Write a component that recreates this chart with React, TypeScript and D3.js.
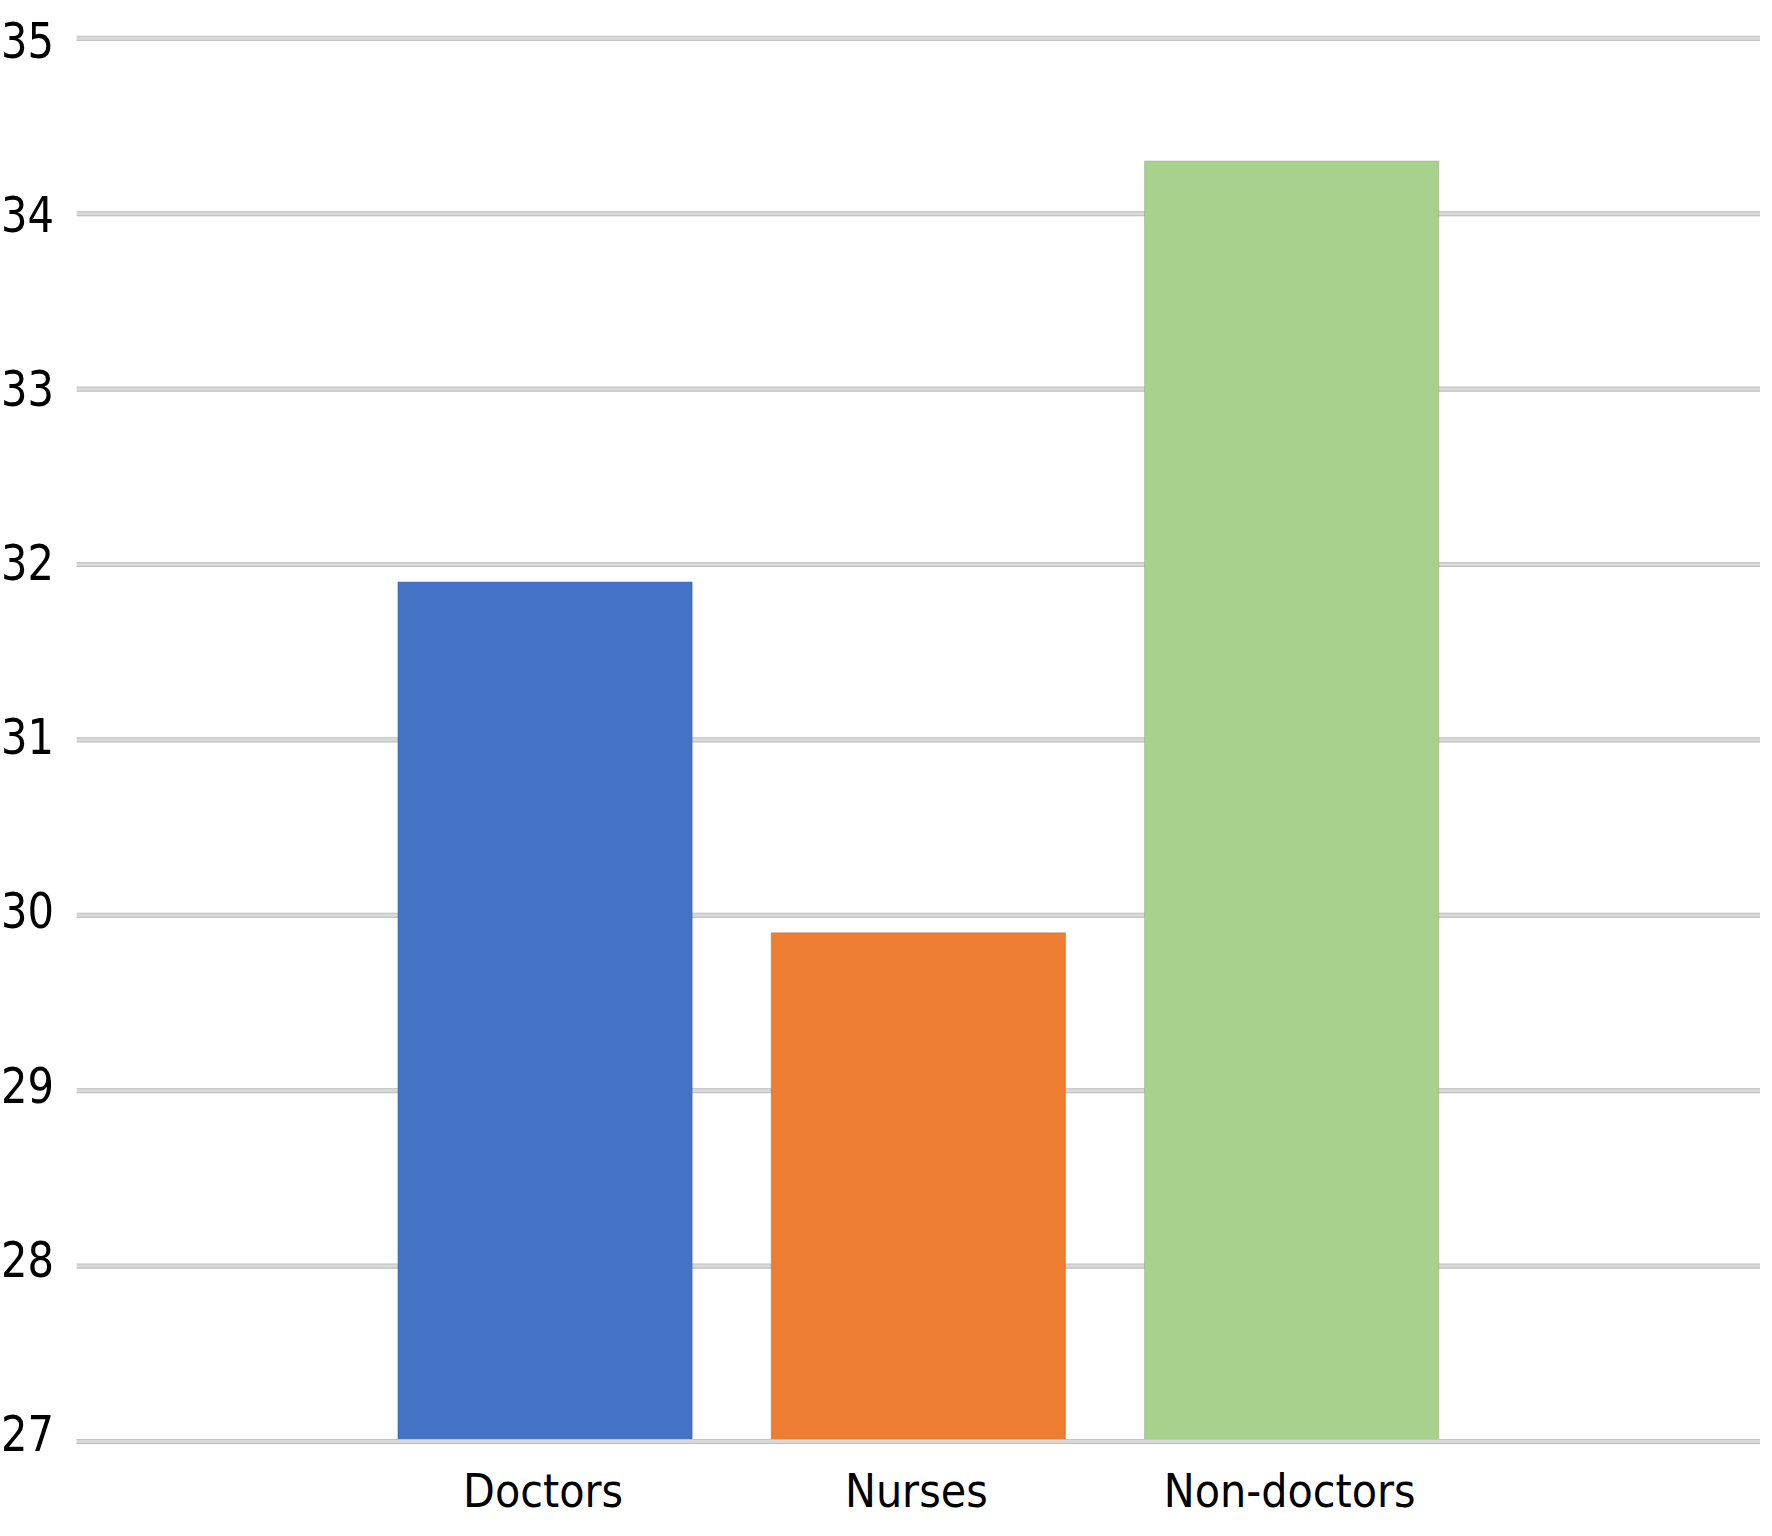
import React from "react";
import * as d3 from "d3";

const categories = ["Doctors", "Nurses", "Non-doctors"];
const values = [31.9, 29.9, 34.3];
const colors = ["#4472C4", "#ED7D31", "#A9D18E"];
const tickValues = [27, 28, 29, 30, 31, 32, 33, 34, 35];

const W = 1772;
const H = 1536;
const FONT = "'DejaVu Sans Condensed', 'DejaVu Sans', sans-serif";

export default function App() {
  const y = d3.scaleLinear().domain([27, 35]).range([1441.5, 38.3]);
  const yLabel = d3.scaleLinear().domain([27, 35]).range([1432.5, 39]);
  const gridX0 = 76.7;
  const gridX1 = 1760;
  const mid = (gridX0 + gridX1) / 2;
  const step = 373.3;
  const x = d3
    .scaleBand<string>()
    .domain(categories)
    .range([mid - 1.5 * step, mid + 1.5 * step])
    .paddingInner(0.212)
    .paddingOuter(0.106);

  const gridLine = (v: number, key: string) => (
    <g key={key}>
      <rect x={gridX0} y={y(v) - 2.5} width={gridX1 - gridX0} height={5} fill="#d9d9d9" />
      <line x1={gridX0} x2={gridX1} y1={y(v) - 2} y2={y(v) - 2} stroke="#c4c4c4" strokeWidth={1} />
      <line x1={gridX0} x2={gridX1} y1={y(v) + 2} y2={y(v) + 2} stroke="#bdbdbd" strokeWidth={1} />
    </g>
  );

  return (
    <svg
      width={W}
      height={H}
      viewBox={`0 0 ${W} ${H}`}
      style={{ position: "absolute", left: 0, top: 0, display: "block", background: "#fff" }}
    >
      <rect x={0} y={0} width={W} height={H} fill="#fff" />
      {tickValues.map((v) => gridLine(v, "g" + v))}
      {categories.map((c, i) => (
        <rect
          key={c}
          x={x(c)}
          y={y(values[i])}
          width={x.bandwidth()}
          height={y(27) - y(values[i])}
          fill={colors[i]}
          stroke={d3.color(colors[i])!.darker(0.6).formatHex()}
          strokeOpacity={0.5}
          strokeWidth={1}
        />
      ))}
      {gridLine(27, "base")}
      {tickValues.map((v) => (
        <text
          key={"t" + v}
          x={1}
          y={yLabel(v) + 18.5}
          textAnchor="start"
          fontFamily={FONT}
          fontSize={50.5}
          textLength={53}
          lengthAdjust="spacingAndGlyphs"
          fill="#000"
        >
          {v}
        </text>
      ))}
      {categories.map((c) => (
        <text
          key={"l" + c}
          x={(x(c) as number) + x.bandwidth() / 2 - 2}
          y={1506.5}
          textAnchor="middle"
          fontFamily={FONT}
          fontSize={46}
          fill="#000"
        >
          {c}
        </text>
      ))}
    </svg>
  );
}
